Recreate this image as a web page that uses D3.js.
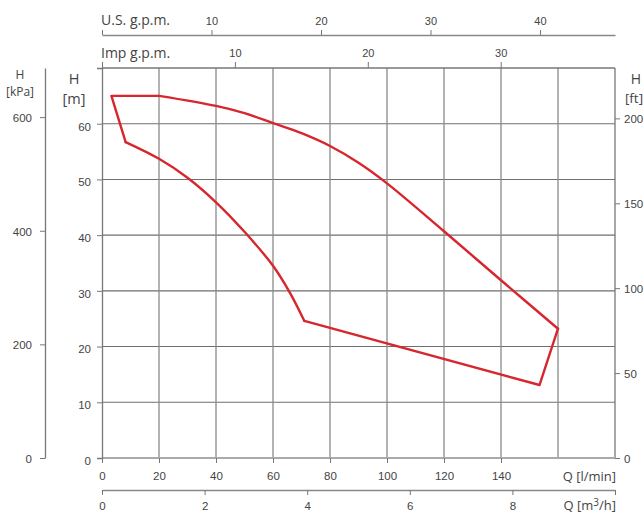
<!DOCTYPE html>
<html><head><meta charset="utf-8">
<script src="https://cdn.jsdelivr.net/npm/d3@7"></script>
<style>
body{margin:0;background:#fff;}
svg{display:block;font-family:"Open Sans",sans-serif;}
text{fill:#444;}
</style></head>
<body>
<svg id="c" width="644" height="513"></svg>
<script>
// ---- data ----
const qTicks = [0,20,40,60,80,100,120,140];          // l/min labels
const qGrid = [20,40,60,80,100,120,140,160];         // vertical grid lines
const m3hTicks = [0,2,4,6,8];
const usgpmTicks = [10,20,30,40];
const impgpmTicks = [10,20,30];
const hmTicks = [0,10,20,30,40,50,60];
const kpaTicks = [0,200,400,600];
const ftTicks = [0,50,100,150,200];
// operating envelope (Q l/min, H m)
const upperQ = [20,40,50,60,70,80,90,100,120,140,160];
const upperH = [65,63.2,61.9,60.1,58.3,56.0,53.0,49.3,40.7,31.9,23.2];
const lowerQ = [8.3,20,30,40,50,60,66,71];
const lowerH = [56.7,53.7,50.3,45.9,40.6,34.5,29.6,24.6];
const topLeftQ = [8.3,3.3,20];
const topLeftH = [56.7,65,65];
const bottomRightQ = [160,153.5,71];
const bottomRightH = [23.2,13.1,24.6];

// ---- layout ----
const svg = d3.select("#c");
const x = d3.scaleLinear().domain([0,180]).range([102,615]);
const xm3 = d3.scaleLinear().domain([0,10]).range([102,615]);
const xus = d3.scaleLinear().domain([0,46.85]).range([102,615]);
const ximp = d3.scaleLinear().domain([0,38.6]).range([102,615]);
const y = d3.scaleLinear().domain([0,70]).range([458,68]);
const ykpa = d3.scaleLinear().domain([0,70*9.80665]).range([458,68]);
const yft = d3.scaleLinear().domain([0,70/0.3048]).range([458,68]);

const tickFont = "11.5px";

// grid
const g = svg.append("g");
g.selectAll(".hg").data(hmTicks.filter(d=>d>0)).join("line")
  .attr("x1",102).attr("x2",615).attr("y1",d=>y(d)).attr("y2",d=>y(d))
  .attr("stroke","#6f6f6f").attr("stroke-width",1.1);
g.selectAll(".vg").data(qGrid).join("line")
  .attr("x1",d=>x(d)).attr("x2",d=>x(d)).attr("y1",68).attr("y2",458)
  .attr("stroke","#8a8a8a").attr("stroke-width",1.3);
g.append("line").attr("x1",102).attr("x2",615).attr("y1",68).attr("y2",68).attr("stroke","#777").attr("stroke-width",1.3);
g.append("line").attr("x1",615).attr("x2",615).attr("y1",68).attr("y2",458).attr("stroke","#777").attr("stroke-width",1.3);
g.append("line").attr("x1",102).attr("x2",616).attr("y1",458).attr("y2",458).attr("stroke","#aaa").attr("stroke-width",2);

// left H [m] axis
const ax = svg.append("g").attr("transform","translate(102,0)")
  .call(d3.axisLeft(y).tickValues(hmTicks.concat([70])).tickSize(5).tickPadding(6)
    .tickFormat(d=>d===70?"":d));
ax.select(".domain").attr("stroke","#777").attr("stroke-width",1.3);
ax.selectAll(".tick line").attr("stroke","#777");
ax.selectAll("text").style("font-size",tickFont).attr("fill","#444").attr("dy","0.55em");

// kPa axis
const ak = svg.append("g").attr("transform","translate(45,0)")
  .call(d3.axisLeft(ykpa).tickValues(kpaTicks).tickSize(5).tickPadding(8).tickSizeOuter(0));
ak.select(".domain").attr("stroke","#777").attr("stroke-width",1.3);
ak.selectAll(".tick line").attr("stroke","#777");
ak.selectAll("text").style("font-size",tickFont).attr("fill","#444").attr("dy","0.4em");

// ft axis
const af = svg.append("g").attr("transform","translate(615,0)")
  .call(d3.axisRight(yft).tickValues(ftTicks).tickSize(5).tickPadding(4).tickSizeOuter(0));
af.select(".domain").remove();
af.selectAll(".tick line").attr("stroke","#777");
af.selectAll("text").style("font-size",tickFont).attr("fill","#444").attr("dy","0.4em");

// bottom l/min axis
const ab = svg.append("g").attr("transform","translate(0,458)")
  .call(d3.axisBottom(x).tickValues(qTicks).tickSize(5).tickPadding(9).tickSizeOuter(0));
ab.select(".domain").remove();
ab.selectAll(".tick line").attr("stroke","#777");
ab.selectAll("text").style("font-size",tickFont).attr("fill","#444");

// m3/h axis
const am = svg.append("g").attr("transform","translate(0,490)")
  .call(d3.axisBottom(xm3).tickValues(m3hTicks.concat([10])).tickSize(5).tickPadding(7).tickSizeOuter(0)
    .tickFormat(d=>d===10?"":d));
am.select(".domain").attr("stroke","#888").attr("stroke-width",1.3);
am.selectAll(".tick line").attr("stroke","#777");
am.selectAll("text").style("font-size",tickFont).attr("fill","#444");

// US gpm axis
const au = svg.append("g").attr("transform","translate(0,35)")
  .call(d3.axisTop(xus).tickValues([0].concat(usgpmTicks)).tickSize(5).tickPadding(5).tickSizeOuter(0)
    .tickFormat(d=>d===0?"":d));
au.select(".domain").attr("stroke","#888").attr("stroke-width",1.3);
au.selectAll(".tick line").attr("stroke","#777");
au.selectAll("text").style("font-size","11px").attr("fill","#444");

// Imp gpm axis (ticks on top border)
const ai = svg.append("g").attr("transform","translate(0,68)")
  .call(d3.axisTop(ximp).tickValues([0].concat(impgpmTicks)).tickSize(6).tickPadding(5).tickSizeOuter(0)
    .tickFormat(d=>d===0?"":d));
ai.select(".domain").remove();
ai.selectAll(".tick line").attr("stroke","#777");
ai.selectAll("text").style("font-size","11px").attr("fill","#444");

// titles
const t = svg.append("g");
t.append("text").attr("x",101).attr("y",25).style("font-size","14px").text("U.S. g.p.m.");
t.append("text").attr("x",101).attr("y",58).style("font-size","14px").text("Imp g.p.m.");
t.append("text").attr("x",20).attr("y",79).attr("text-anchor","middle").style("font-size","12px").text("H");
t.append("text").attr("x",20).attr("y",96).attr("text-anchor","middle").style("font-size","12px").text("[kPa]");
t.append("text").attr("x",74).attr("y",84).attr("text-anchor","middle").style("font-size","14.5px").text("H");
t.append("text").attr("x",74).attr("y",104).attr("text-anchor","middle").style("font-size","14.5px").text("[m]");
t.append("text").attr("x",636).attr("y",84).attr("text-anchor","middle").style("font-size","14px").text("H");
t.append("text").attr("x",634).attr("y",103).attr("text-anchor","middle").style("font-size","13.5px").text("[ft]");
t.append("text").attr("x",616).attr("y",481).attr("text-anchor","end").style("font-size","13px").text("Q [l/min]");
const qm = t.append("text").attr("x",616).attr("y",510).attr("text-anchor","end").style("font-size","13px");
qm.append("tspan").text("Q [m");
qm.append("tspan").attr("dy","-4").style("font-size","10px").text("3");
qm.append("tspan").attr("dy","4").text("/h]");

// envelope
const red = "#d7262e";
const pts = (qs,hs)=>qs.map((q,i)=>[q,hs[i]]);
const smooth = d3.line().x(d=>x(d[0])).y(d=>y(d[1])).curve(d3.curveCatmullRom.alpha(0.5));
const straight = d3.line().x(d=>x(d[0])).y(d=>y(d[1]));
const c = svg.append("g").attr("fill","none").attr("stroke",red).attr("stroke-width",2.4)
  .attr("stroke-linejoin","round").attr("stroke-linecap","round");
c.append("path").attr("d",smooth(pts(upperQ,upperH)));
c.append("path").attr("d",smooth(pts(lowerQ,lowerH)));
c.append("path").attr("d",straight(pts(topLeftQ,topLeftH)));
c.append("path").attr("d",straight(pts(bottomRightQ,bottomRightH)));
</script>
</body></html>
